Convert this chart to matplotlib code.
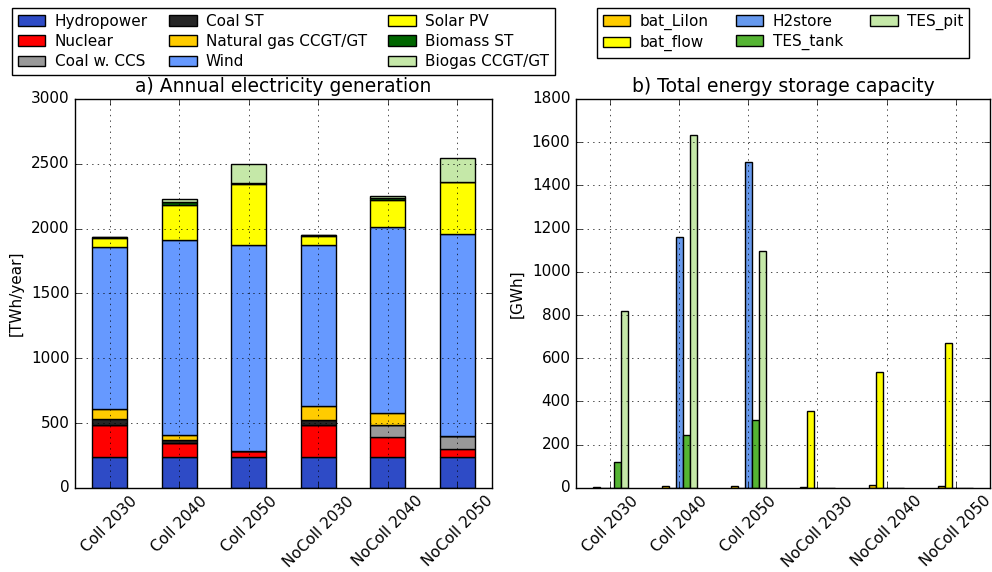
import matplotlib

matplotlib.use("Agg")
import matplotlib.pyplot as plt  # noqa: E402
import numpy as np  # noqa: E402

plt.style.use("classic")

# scenarios
scenarios = ["Coll 2030", "Coll 2040", "Coll 2050", "NoColl 2030", "NoColl 2040", "NoColl 2050"]

# a) annual electricity generation [TWh/year], stacked bottom -> top
gen_techs = [
    "Hydropower", "Nuclear", "Coal w. CCS", "Coal ST", "Natural gas CCGT/GT",
    "Wind", "Solar PV", "Biomass ST", "Biogas CCGT/GT",
]
hydropower = [237, 237, 237, 237, 237, 237]
nuclear = [251, 113, 46, 246, 157, 65]
coal_ccs = [0, 0, 0, 0, 94, 97]
coal_st = [44, 18, 0, 39, 0, 0]
natural_gas = [74, 38, 0, 110, 90, 0]
wind = [1254, 1509, 1592, 1241, 1436, 1559]
solar_pv = [67, 268, 467, 72, 205, 399]
biomass_st = [10, 21, 6, 5, 18, 5]
biogas = [0, 25, 154, 0, 15, 183]
gen_values = [hydropower, nuclear, coal_ccs, coal_st, natural_gas, wind, solar_pv, biomass_st, biogas]
gen_colors = ["#2E4BC6", "#FF0000", "#999999", "#262626", "#FFCC00",
              "#6699FF", "#FFFF00", "#006600", "#C5E8A8"]

# b) total energy storage capacity [GWh]
sto_techs = ["bat_LiIon", "bat_flow", "H2store", "TES_tank", "TES_pit"]
bat_liion = [5, 8, 8, 3, 12, 8]
bat_flow = [0, 0, 0, 355, 535, 672]
h2store = [0, 1160, 1510, 0, 0, 0]
tes_tank = [119, 247, 313, 0, 0, 0]
tes_pit = [820, 1635, 1095, 0, 0, 0]
sto_values = [bat_liion, bat_flow, h2store, tes_tank, tes_pit]
sto_colors = ["#FFCC00", "#FFFF00", "#6699EE", "#55B433", "#C5E8A8"]

fig = plt.figure(figsize=(9.92, 5.72), dpi=100, facecolor="white")
ax1 = fig.add_axes([0.0756, 0.147, 0.4204, 0.68])
ax2 = fig.add_axes([0.5806, 0.147, 0.4174, 0.68])

x = np.arange(len(scenarios))
leg_kw = dict(loc="upper center", bbox_to_anchor=(0.5, 1.235), ncol=3, fontsize=11,
              handlelength=1.8, handletextpad=0.6,
              borderaxespad=0, labelspacing=0.35)

# stacked generation
bottom = np.zeros(len(scenarios))
for name, vals, col in zip(gen_techs, gen_values, gen_colors):
    ax1.bar(x, vals, 0.5, bottom=bottom, color=col, edgecolor="black",
            linewidth=1.0, label=name, align="center")
    bottom += np.array(vals)
ax1.set_xlim(-0.5, len(scenarios) - 0.5)
ax1.set_ylim(0, 3000)
ax1.set_xticks(x)
ax1.set_xticklabels(scenarios, rotation=45, fontsize=11)
ax1.tick_params(axis="y", labelsize=11)
ax1.set_ylabel("[TWh/year]", fontsize=11)
ax1.set_title("a) Annual electricity generation", fontsize=13.5)
ax1.grid(True)
ax1.legend(columnspacing=1.4, **leg_kw)

# grouped storage
w = 0.1
for i, (name, vals, col) in enumerate(zip(sto_techs, sto_values, sto_colors)):
    ax2.bar(x + (i - 2) * w, vals, w, color=col, edgecolor="black",
            linewidth=1.0, label=name, align="center")
ax2.set_xlim(-0.5, len(scenarios) - 0.5)
ax2.set_ylim(0, 1800)
ax2.set_xticks(x)
ax2.set_xticklabels(scenarios, rotation=45, fontsize=11)
ax2.tick_params(axis="y", labelsize=11)
ax2.set_ylabel("[GWh]", fontsize=11)
ax2.set_title("b) Total energy storage capacity", fontsize=13.5)
ax2.grid(True)
ax2.legend(columnspacing=1.8, **leg_kw)

fig.savefig("out.png", dpi=100, facecolor="white")
